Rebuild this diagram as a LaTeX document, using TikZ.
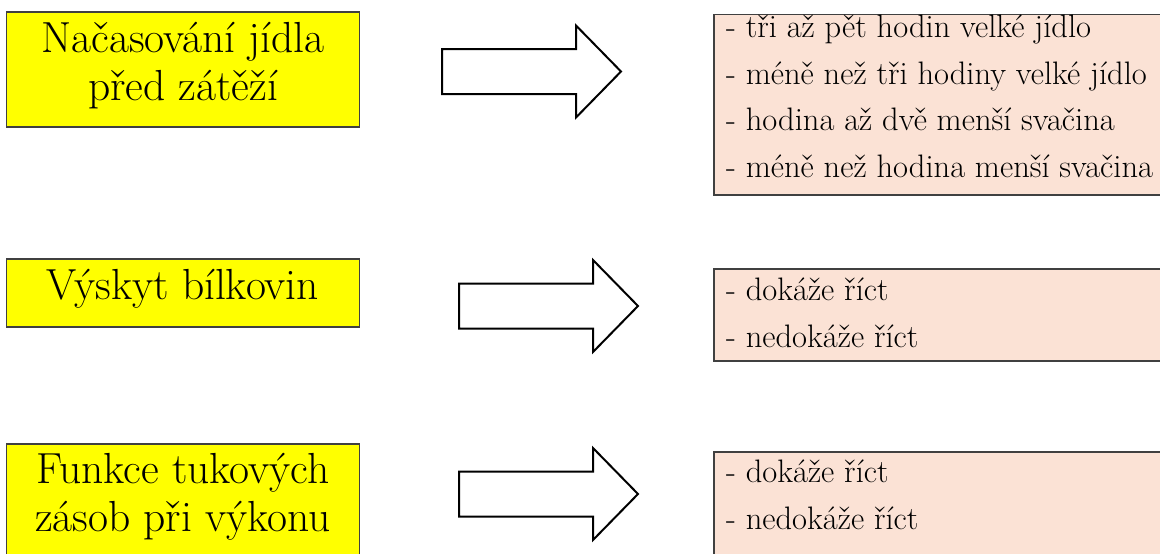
\documentclass[tikz,border=0pt]{standalone}
\usepackage{fontspec}
\usepackage{tikz}
\usetikzlibrary{positioning}

\definecolor{boxyellow}{HTML}{FFFF00}
\definecolor{boxpink}{HTML}{FBE2D5}
\definecolor{boxline}{HTML}{404040}

\newcommand{\fatarrow}[2]{\draw[fatarrow] (#1,#2) ++(0,-22.5) -- ++(134,0) -- ++(0,-23.5) -- ++(45,46) -- ++(-45,46) -- ++(0,-23.5) -- ++(-134,0) -- cycle;}

\begin{document}
\begin{tikzpicture}[x=1pt,y=-1pt,
		yellowbox/.style={draw=boxline,fill=boxyellow,line width=1.5pt,inner sep=0,minimum width=353},
		pinkbox/.style={draw=boxline,fill=boxpink,line width=1.5pt,inner sep=0,minimum width=466},
		bigtext/.style={inner sep=0,anchor=north,align=center,font=\fontsize{43.5}{48}\selectfont},
		listtext/.style={inner sep=0,anchor=north west,align=left,font=\fontsize{32.5}{46.5}\selectfont},
		fatarrow/.style={draw=black,fill=white,line width=2pt,line join=miter}]
		\clip (0,0) rectangle (1160,554);

		\node[yellowbox,minimum height=115] (timing) at (183,69.5) {};
		\node[yellowbox,minimum height=68] (protein) at (183,293) {};
		\node[yellowbox,minimum height=156] (fat) at (183,522) {};

		\node[bigtext] (timingtext) at (183,22) {Načasování jídla\\před zátěží};
		\node[bigtext] (proteintext) at (183,269) {Výskyt bílkovin};
		\node[bigtext] (fattext) at (183,453) {Funkce tukových\\zásob při výkonu};

		\fatarrow{442}{71.5}
		\fatarrow{459}{306}
		\fatarrow{459}{494}

		\node[pinkbox,minimum height=180.5] (meals) at (947,104.75) {};
		\node[pinkbox,minimum height=92] (proteinans) at (947,315) {};
		\node[pinkbox,minimum height=148] (fatans) at (947,526) {};

		\node[listtext] (mealslist) at (726,15) {- tři až pět hodin velké jídlo\\- méně než tři hodiny velké jídlo\\- hodina až dvě menší svačina\\- méně než hodina menší svačina};
		\node[listtext] (proteinlist) at (726,278) {- dokáže říct\\- nedokáže říct};
		\node[listtext] (fatlist) at (726,460) {- dokáže říct\\- nedokáže říct};
	\end{tikzpicture}
\end{document}
